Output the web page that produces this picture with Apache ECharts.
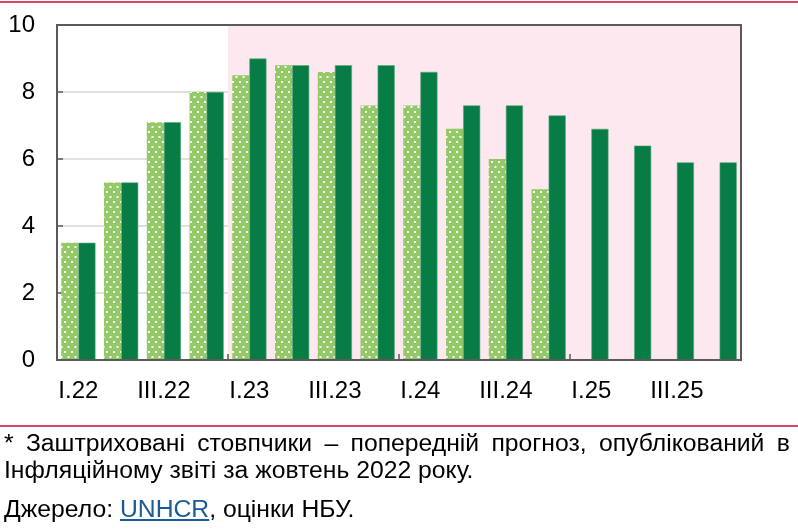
<!DOCTYPE html>
<html>
<head>
<meta charset="utf-8">
<script src="https://cdn.jsdelivr.net/npm/echarts@6/dist/echarts.min.js"></script>
<style>
  html, body { margin: 0; padding: 0; background: #fff; }
  #wrap { position: relative; width: 798px; height: 532px; overflow: hidden; font-family: "Liberation Sans", Arial, sans-serif; color: #000; }
  #chart { position: absolute; left: 0; top: 0; width: 798px; height: 532px; }
  .rule { position: absolute; left: 0; width: 798px; height: 2px; background: #d9455f; }
  .note { position: absolute; left: 4px; font-size: 23px; line-height: 26px; white-space: nowrap;
          transform: scaleX(1.075); transform-origin: 0 0; }
  .just { width: 731px; text-align: justify; text-align-last: justify; white-space: normal; }
  .link { color: #1c5a96; text-decoration: underline; }
</style>
</head>
<body>
<div id="wrap">
  <div id="chart"></div>
  <div class="rule" style="top:1px"></div>
  <div class="rule" style="top:425px"></div>
  <div class="note just" style="top:430px">* Заштриховані стовпчики – попередній прогноз, опублікований в</div>
  <div class="note" style="top:457px">Інфляційному звіті за жовтень 2022 року.</div>
  <div class="note" style="top:496px">Джерело: <span class="link">UNHCR</span>, оцінки НБУ.</div>
</div>
<script>
const categories = ['I.22','II.22','III.22','IV.22','I.23','II.23','III.23','IV.23','I.24','II.24','III.24','IV.24','I.25','II.25','III.25','IV.25'];
const previousForecast = [3.5, 5.3, 7.1, 8.0, 8.5, 8.8, 8.6, 7.6, 7.6, 6.9, 6.0, 5.1, null, null, null, null];
const currentForecast  = [3.5, 5.3, 7.1, 8.0, 9.0, 8.8, 8.8, 8.8, 8.6, 7.6, 7.6, 7.3, 6.9, 6.4, 5.9, 5.9];
const yMin = 0, yMax = 10, yStep = 2;
const shadeFrom = categories.indexOf('I.23');

// dotted pattern for the previous-forecast bars
const tile = document.createElement('canvas');
tile.width = 7; tile.height = 10;
const g = tile.getContext('2d');
g.fillStyle = '#93c966'; g.fillRect(0, 0, 7, 10);
g.fillStyle = '#ffffff';
g.fillRect(1, 1, 2, 2);
g.fillRect(4.5, 6, 2, 2);

const yearTick = (i) => i % 4 === 0 && i > 0;

const chart = echarts.init(document.getElementById('chart'));
chart.setOption({
  animation: false,
  grid: { left: 57, right: 57, top: 25, bottom: 172, show: true, z: 3,
          backgroundColor: 'transparent', borderColor: '#5a5a5a', borderWidth: 2 },
  xAxis: [{
    type: 'category', data: categories, z: 1,
    axisLine: { show: false },
    axisTick: { show: true, inside: true, length: 6, interval: yearTick, lineStyle: { color: '#5a5a5a', width: 1.5 } },
    splitLine: { show: true, interval: yearTick, lineStyle: { color: '#c9c9cc', width: 1 } },
    axisLabel: { interval: 1, margin: 19, fontSize: 24, color: '#000', fontFamily: 'Liberation Sans' }
  }, {
    type: 'value', min: 0, max: categories.length, show: false
  }],
  yAxis: {
    type: 'value', min: yMin, max: yMax, interval: yStep, z: 1,
    axisLine: { show: false },
    axisTick: { show: true, inside: true, length: 6, lineStyle: { color: '#5a5a5a', width: 1.5 } },
    splitLine: { show: true, lineStyle: { color: '#d6d6d6', width: 1.5 } },
    axisLabel: { margin: 22, fontSize: 24, color: '#000', fontFamily: 'Liberation Sans' }
  },
  series: [{
    type: 'line', xAxisIndex: 1, yAxisIndex: 0, data: [], z: 0, silent: true,
    markArea: { silent: true, itemStyle: { color: '#fde8ef' },
      data: [[{ xAxis: shadeFrom }, { xAxis: categories.length }]] }
  }, {
    name: 'previous', type: 'bar', data: previousForecast, z: 2,
    barGap: '0%', barCategoryGap: '20%',
    itemStyle: { color: { image: tile, repeat: 'repeat' } }
  }, {
    name: 'current', type: 'bar', data: currentForecast, z: 2,
    barGap: '0%', barCategoryGap: '20%',
    itemStyle: { color: '#077c45', borderColor: '#5aa77d', borderWidth: 0.6 }
  }]
});
</script>
</body>
</html>
